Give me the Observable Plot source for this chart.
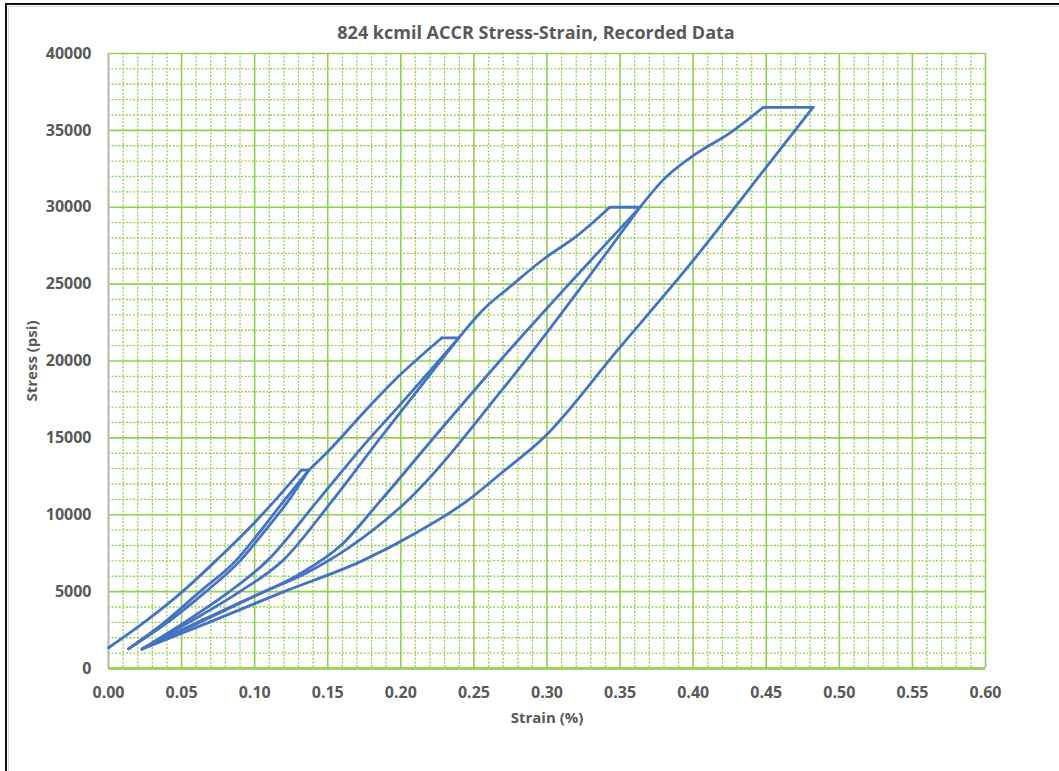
<!DOCTYPE html>
<html>
<head>
<meta charset="utf-8">
<script src="https://cdn.jsdelivr.net/npm/d3@7"></script>
<script src="https://cdn.jsdelivr.net/npm/@observablehq/plot@0.6"></script>
<style>
  html, body { margin: 0; padding: 0; background: #fff; }
  #wrap { position: relative; width: 1059px; height: 771px; overflow: hidden; }
  #chart { position: absolute; left: 0; top: 0; }
  .edge { position: absolute; }
</style>
</head>
<body>
<div id="wrap">
  <div id="chart"></div>
  <div class="edge" style="left:5px;top:3px;width:1054px;height:2px;background:#111;"></div>
  <div class="edge" style="left:5px;top:3px;width:2px;height:768px;background:#111;"></div>
  <div class="edge" style="left:8px;top:6px;width:1051px;height:1px;background:#d9d9d9;"></div>
  <div class="edge" style="left:8px;top:6px;width:1px;height:765px;background:#d9d9d9;"></div>
</div>
<script>
// Recorded stress-strain path in recording order. Each leg (load, hold,
// unload, reload) is numbered; the point where two legs meet is repeated.
const leg = [
  0, 0, 0, 0, 0, 0, 0,
  1, 1,
  2, 2, 2, 2, 2, 2, 2,
  3, 3, 3, 3, 3, 3, 3,
  4, 4, 4, 4, 4,
  5, 5,
  6, 6, 6, 6, 6, 6, 6, 6,
  7, 7, 7, 7, 7, 7, 7,
  8, 8, 8, 8, 8, 8,
  9, 9,
  10, 10, 10, 10, 10, 10, 10, 10, 10,
  11, 11, 11, 11, 11, 11, 11, 11,
  12, 12, 12, 12, 12,
  13, 13,
  14, 14, 14, 14, 14, 14, 14, 14, 14, 14, 14, 14
];
const strain = [
  0.000, 0.025, 0.050, 0.075, 0.100, 0.115, 0.132,
  0.132, 0.137,
  0.137, 0.120, 0.104, 0.087, 0.062, 0.037, 0.0137,
  0.0137, 0.039, 0.066, 0.090, 0.107, 0.123, 0.137,
  0.137, 0.150, 0.176, 0.199, 0.228,
  0.228, 0.2396,
  0.2396, 0.199, 0.179, 0.143, 0.1085, 0.082, 0.052, 0.023,
  0.023, 0.055, 0.089, 0.119, 0.153, 0.186, 0.2396,
  0.2396, 0.257, 0.275, 0.298, 0.320, 0.343,
  0.343, 0.3636,
  0.3636, 0.268, 0.226, 0.186, 0.160, 0.130, 0.100, 0.060, 0.023,
  0.023, 0.062, 0.104, 0.135, 0.165, 0.2043, 0.268, 0.3636,
  0.3636, 0.3795, 0.3977, 0.427, 0.448,
  0.448, 0.482,
  0.482, 0.4483, 0.3982, 0.348, 0.298, 0.268, 0.2454, 0.210, 0.1735, 0.120, 0.070, 0.023
];
const stress = [
  1350, 3050, 4950, 7150, 9500, 11050, 12900,
  12900, 12900,
  12900, 10900, 8950, 7000, 4950, 2900, 1280,
  1280, 2900, 4950, 7000, 8950, 10900, 12900,
  12900, 14100, 16800, 19050, 21500,
  21500, 21500,
  21500, 17100, 15000, 10900, 7000, 4950, 3000, 1270,
  1270, 3000, 4950, 7000, 10900, 15000, 21500,
  21500, 23400, 24850, 26650, 28100, 30000,
  30000, 30000,
  30000, 20030, 15400, 10900, 8100, 6100, 4700, 2900, 1270,
  1270, 3050, 4900, 6200, 7900, 10900, 17970, 30000,
  30000, 31780, 33200, 34950, 36500,
  36500, 36500,
  36500, 32400, 26330, 20680, 15040, 12650, 10900, 8800, 7000, 5000, 3050, 1270
];

const xTicks = [0, 0.05, 0.10, 0.15, 0.20, 0.25, 0.30, 0.35, 0.40, 0.45, 0.50, 0.55, 0.60];
const yTicks = [0, 5000, 10000, 15000, 20000, 25000, 30000, 35000, 40000];

const titleText = "824 kcmil ACCR Stress-Strain, Recorded Data";
const xLabel = "Strain (%)";
const yLabel = "Stress (psi)";

// Minor grid: five subdivisions between each pair of major ticks
const minorOf = (ticks) => ticks.slice(0, -1).flatMap((t, i) => {
  const step = (ticks[i + 1] - t) / 5;
  return [1, 2, 3, 4].map(k => t + k * step);
});
const xMinor = minorOf(xTicks);
const yMinor = minorOf(yTicks);

const points = strain.map((s, i) => ({strain: s, stress: stress[i], leg: leg[i]}));

const green = "#92D050";
const ink = "#595959";
const font = "'Open Sans', 'Liberation Sans', sans-serif";

const chart = Plot.plot({
  width: 1059,
  height: 771,
  marginLeft: 108,
  marginRight: 74,
  marginTop: 53,
  marginBottom: 103,
  style: {fontFamily: font, color: ink, background: "transparent", overflow: "visible"},
  x: {domain: [0, 0.6]},
  y: {domain: [0, 40000]},
  marks: [
    Plot.ruleX(xMinor, {stroke: green, strokeWidth: 1.3, strokeDasharray: "2 1.6"}),
    Plot.ruleY(yMinor, {stroke: green, strokeWidth: 1.3, strokeDasharray: "2 1.6"}),
    Plot.ruleX(xTicks, {stroke: green, strokeWidth: 1.6}),
    Plot.ruleY(yTicks, {stroke: green, strokeWidth: 1.6}),
    Plot.ruleX([0], {stroke: "#BFBFBF", strokeWidth: 2}),
    Plot.ruleY([0], {stroke: green, strokeWidth: 2.5}),
    Plot.line(points, {
      x: "strain", y: "stress", z: "leg",
      stroke: "#4472C4", strokeWidth: 2.8,
      strokeLinejoin: "round", strokeLinecap: "round",
      curve: "monotone-x"
    }),
    Plot.axisX({ticks: xTicks, tickFormat: d3.format(".2f"), tickSize: 0, tickPadding: 18, fontSize: 16, fontWeight: "bold", label: null}),
    Plot.axisY({ticks: yTicks, tickFormat: d3.format("d"), tickSize: 0, tickPadding: 17, fontSize: 16, fontWeight: "bold", label: null}),
    Plot.text([titleText], {frameAnchor: "top", lineAnchor: "middle", dx: -11, dy: -20, fontSize: 18, fontWeight: "bold", fill: ink}),
    Plot.text([xLabel], {frameAnchor: "bottom", lineAnchor: "middle", dy: 50, fontSize: 15, fontWeight: "bold", fill: ink}),
    Plot.text([yLabel], {frameAnchor: "left", textAnchor: "middle", lineAnchor: "middle", dx: -76, rotate: -90, fontSize: 15, fontWeight: "bold", fill: ink})
  ]
});

document.getElementById("chart").appendChild(chart);
</script>
</body>
</html>
